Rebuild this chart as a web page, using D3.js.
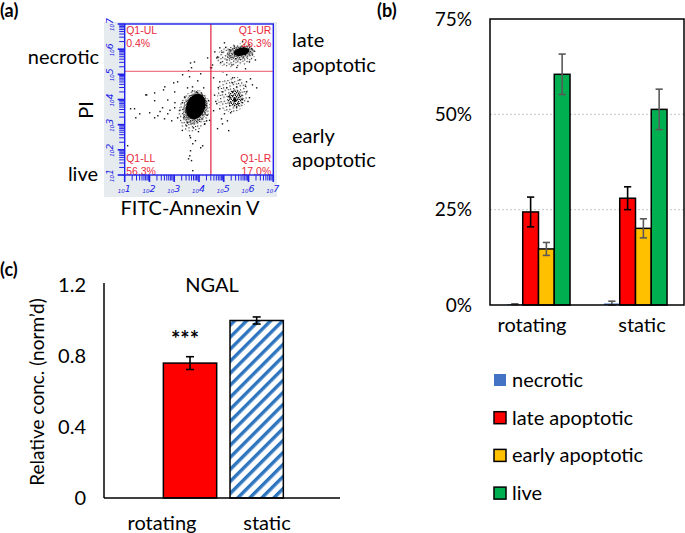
<!DOCTYPE html>
<html>
<head>
<meta charset="utf-8">
<script src="https://cdn.jsdelivr.net/npm/d3@7"></script>
<style>
  body { margin: 0; background: #fff; }
  svg { display: block; font-family: Lato, "Open Sans", sans-serif; }
</style>
</head>
<body>
<svg id="fig" width="685" height="533"></svg>
<script>
// ---------- (a) flow cytometry, values are log10 units ----------
const gateX = 4.48;
const gateY = 5.12;
const decades = [1, 2, 3, 4, 5, 6, 7];
const quadLabels = [
  { name: "Q1-UL", pct: "0.4%", q: "UL" },
  { name: "Q1-UR", pct: "26.3%", q: "UR" },
  { name: "Q1-LL", pct: "56.3%", q: "LL" },
  { name: "Q1-LR", pct: "17.0%", q: "LR" }
];
// dense populations (centre, spread in decades, tilt, texture)
const densePops = [
  { x: 3.8, y: 3.55, rx: 0.62, ry: 0.85, rot: 15, tex: "sparse" },
  { x: 3.85, y: 3.65, rx: 0.48, ry: 0.66, rot: 18, tex: "mid" },
  { x: 3.87, y: 3.72, rx: 0.38, ry: 0.52, rot: 20, tex: "solid" },
  { x: 5.5, y: 5.75, rx: 0.8, ry: 0.45, rot: -12, tex: "sparse" },
  { x: 5.65, y: 5.85, rx: 0.55, ry: 0.28, rot: -12, tex: "mid" },
  { x: 5.72, y: 5.9, rx: 0.32, ry: 0.16, rot: -12, tex: "solid" },
  { x: 5.35, y: 4.2, rx: 0.62, ry: 0.72, rot: 10, tex: "sparse" },
  { x: 5.45, y: 4.05, rx: 0.3, ry: 0.35, rot: 0, tex: "mid" },
  { x: 5.45, y: 3.98, rx: 0.07, ry: 0.08, rot: 0, tex: "solid" }
];
const dots = [
  [2.31,3.38],[2.18,3.30],[1.98,3.50],[2.71,3.46],[2.58,3.26],[1.58,3.46],[1.37,3.66],[2.99,3.70],
  [3.11,3.30],[2.87,3.18],[3.47,2.98],[3.60,2.59],[3.72,2.27],[3.60,1.79],[3.67,1.60],[3.72,1.20],
  [1.09,2.19],[1.82,4.21],[2.18,3.98],[1.42,3.30],[1.21,3.66],[2.54,4.41],[2.95,4.69],[3.51,4.49],
  [3.71,4.37],[3.92,4.77],[3.75,2.90],[3.63,2.51],[3.83,2.39],[4.04,2.11],[3.63,1.99],[3.55,1.67],
  [4.12,3.58],[4.36,3.98],[4.16,4.49],[3.30,3.90],[3.40,4.10],[3.20,3.60],[3.35,3.30],[3.50,3.10],
  [4.30,3.40],[4.25,3.80],[4.40,3.20],[3.90,4.30],[4.10,4.20],[3.00,3.90],[2.80,3.60],[3.45,3.55],
  [4.20,3.05],[3.95,2.75],[3.30,2.80],[2.50,3.70],[2.40,3.55],
  [2.59,4.53],[1.86,4.21],[2.18,4.29],[2.99,4.33],[3.11,4.73],[3.31,5.01],[3.67,5.29],[3.79,5.52],
  [3.59,4.93],[3.71,4.53],[3.87,4.33],[3.39,4.13],[2.71,4.01],[3.63,5.48],[3.55,5.17],[4.04,5.05],
  [4.32,5.68],[4.44,5.29],[4.56,4.89],[4.56,3.58],
  [4.52,5.40],[4.69,5.68],[4.61,5.92],[4.81,6.08],[4.94,5.13],[5.09,5.01],[5.33,4.89],[5.62,4.81],
  [5.89,4.73],[6.01,5.52],[6.13,5.80],[6.01,6.20],[5.73,6.32],[5.00,6.28],[4.72,5.72],[4.48,5.29],
  [4.90,5.90],[5.10,5.60],[5.20,6.00],[5.30,5.40],[5.50,5.30],[6.20,5.95],[6.25,5.60],[5.85,5.25],
  [4.85,5.50],[5.05,6.10],[5.40,6.15],[6.10,6.05],
  [4.69,3.86],[4.81,3.66],[5.00,3.46],[5.21,3.78],[5.49,3.70],[4.88,3.26],[5.12,3.18],[4.28,3.18],
  [4.20,3.06],[4.12,2.19],[4.72,2.87],[5.73,3.90],[4.81,4.73],[5.09,4.49],[5.33,4.33],[5.61,4.21],
  [5.89,4.33],[6.13,4.61],[6.30,4.49],[5.49,4.53],[5.21,4.13],[6.01,4.10],[5.73,4.02],[4.93,4.33],
  [5.33,4.69],[5.17,2.79],[4.92,3.06],[4.60,4.20],[4.75,4.50],[4.65,3.95],[5.85,4.55],[6.05,4.85],
  [5.95,3.95],[5.55,3.85],[5.25,3.50]
];

// ---------- (b) cell status ----------
const statusCats = ["rotating", "static"];
const statusSeries = ["necrotic", "late apoptotic", "early apoptotic", "live"];
const necroticPct = [0.2, 0.4];
const lateApoPct = [24.4, 28.0];
const earlyApoPct = [14.7, 20.1];
const livePct = [60.5, 51.3];
const necroticErr = [0.1, 0.6];
const lateApoErr = [3.9, 3.0];
const earlyApoErr = [1.7, 2.5];
const liveErr = [5.3, 5.3];
const pctTicks = [0, 25, 50, 75];

// ---------- (c) NGAL ----------
const ngalCats = ["rotating", "static"];
const ngalVals = [0.76, 1.0];
const ngalErr = [0.036, 0.02];
const ngalTicks = [0, 0.4, 0.8, 1.2];

const colors = {
  "necrotic": "#4472c4",
  "late apoptotic": "#ff0000",
  "early apoptotic": "#ffc000",
  "live": "#00b050"
};
const errColors = {
  "necrotic": "#595959",
  "late apoptotic": "#000",
  "early apoptotic": "#595959",
  "live": "#595959"
};

const svg = d3.select("#fig");
const defs = svg.append("defs");
const blue = "#2020e8";
const qRed = "#e8283c";

// stipple textures for the dot clouds
defs.append("pattern").attr("id", "tex-sparse").attr("patternUnits", "userSpaceOnUse")
  .attr("width", 7).attr("height", 7)
  .call(p => {
    [[0, 0], [4, 2], [1, 4], [5, 5], [3, 6]].forEach(([x, y]) => {
      p.append("rect").attr("x", x).attr("y", y).attr("width", 1.2).attr("height", 1.2).attr("fill", "#222");
    });
  });
defs.append("pattern").attr("id", "tex-mid").attr("patternUnits", "userSpaceOnUse")
  .attr("width", 4).attr("height", 4)
  .call(p => {
    [[0, 0], [2, 1], [1, 2.5], [3, 3]].forEach(([x, y]) => {
      p.append("rect").attr("x", x).attr("y", y).attr("width", 1.3).attr("height", 1.3).attr("fill", "#111");
    });
  });
const texFill = { sparse: "url(#tex-sparse)", mid: "url(#tex-mid)", solid: "#000" };

// ================= panel (a) =================
const xA = d3.scaleLinear().domain([1, 7]).range([124.7, 273.3]);
const yA = d3.scaleLinear().domain([1, 7]).range([175, 24]);

svg.append("rect").attr("x", 104).attr("y", 22).attr("width", 173).attr("height", 175)
  .attr("fill", "#e5ebef");
svg.append("rect").attr("x", xA(1)).attr("y", yA(7))
  .attr("width", xA(7) - xA(1)).attr("height", yA(1) - yA(7)).attr("fill", "#fff");

const dotG = svg.append("g");
densePops.forEach(p => {
  dotG.append("ellipse")
    .attr("cx", xA(p.x)).attr("cy", yA(p.y))
    .attr("rx", xA(p.x + p.rx) - xA(p.x))
    .attr("ry", yA(p.y) - yA(p.y + p.ry))
    .attr("transform", `rotate(${p.rot},${xA(p.x)},${yA(p.y)})`)
    .attr("fill", texFill[p.tex]);
});
dotG.selectAll("rect.dot")
  .data(dots)
  .enter()
  .append("rect")
  .attr("class", "dot")
  .attr("x", d => xA(d[0]))
  .attr("y", d => yA(d[1]))
  .attr("width", 1.4)
  .attr("height", 1.4)
  .attr("fill", "#111");

// gates
svg.append("line")
  .attr("x1", xA(1)).attr("x2", xA(7)).attr("y1", yA(gateY)).attr("y2", yA(gateY))
  .attr("stroke", "#f07888").attr("stroke-width", 1.2);
svg.append("line")
  .attr("x1", xA(gateX)).attr("x2", xA(gateX)).attr("y1", yA(7)).attr("y2", yA(1))
  .attr("stroke", "#e0203c").attr("stroke-width", 1.2);

// quadrant labels
quadLabels.forEach(q => {
  const right = q.q[1] === "R";
  const top = q.q[0] === "U";
  const tx = right ? xA(7) - 2 : xA(1) + 1.5;
  const ty = top ? yA(7) + 10 : yA(1) - 13;
  const t = svg.append("text")
    .attr("x", tx).attr("y", ty)
    .attr("text-anchor", right ? "end" : "start")
    .attr("fill", qRed)
    .style("font-family", "'Liberation Sans', Arial, sans-serif")
    .style("font-size", "10.5px");
  t.append("tspan").attr("x", tx).text(q.name);
  t.append("tspan").attr("x", tx).attr("dy", 12.5).text(q.pct);
});

// log ticks
const tickVals = [];
decades.slice(0, -1).forEach(d => {
  d3.range(1, 10).forEach(k => tickVals.push({ v: d + Math.log10(k), major: k === 1 }));
});
tickVals.push({ v: 7, major: true });

svg.append("g").selectAll("line")
  .data(tickVals).enter().append("line")
  .attr("x1", d => xA(d.v)).attr("x2", d => xA(d.v))
  .attr("y1", yA(1)).attr("y2", d => yA(1) + (d.major ? 7 : 5.5))
  .attr("stroke", blue).attr("stroke-width", d => d.major ? 1.6 : 1);
svg.append("g").selectAll("line")
  .data(tickVals).enter().append("line")
  .attr("y1", d => yA(d.v)).attr("y2", d => yA(d.v))
  .attr("x1", xA(1)).attr("x2", d => xA(1) - (d.major ? 7 : 5.5))
  .attr("stroke", blue).attr("stroke-width", d => d.major ? 1.6 : 1);

// frame
svg.append("rect").attr("x", xA(1)).attr("y", yA(7))
  .attr("width", xA(7) - xA(1)).attr("height", yA(1) - yA(7))
  .attr("fill", "none").attr("stroke", blue).attr("stroke-width", 1.4);

// decade labels
const labStyle = sel => sel.attr("fill", blue).style("font-family", "'DejaVu Sans', sans-serif")
  .style("font-style", "italic");
decades.forEach(d => {
  const t = svg.append("text").attr("x", xA(d) - 7).attr("y", 193).call(labStyle);
  t.append("tspan").style("font-size", "5.5px").text("10");
  t.append("tspan").style("font-size", "9.5px").attr("dy", -1).text(d);
  const ty = svg.append("text")
    .attr("transform", `translate(114,${yA(d) + 7}) rotate(-90)`).call(labStyle);
  ty.append("tspan").style("font-size", "5.5px").text("10");
  ty.append("tspan").style("font-size", "9.5px").attr("dy", -1).text(d);
});

// panel (a) text
const big = "20px";
svg.append("text").attr("x", 0).attr("y", 17).style("font-weight", "bold")
  .style("font-size", "18px").text("(a)");
svg.append("text").attr("x", 99).attr("y", 57).attr("dy", "0.35em")
  .attr("text-anchor", "end").style("font-size", big).text("necrotic");
svg.append("text").attr("x", 98).attr("y", 174).attr("dy", "0.35em")
  .attr("text-anchor", "end").style("font-size", big).text("live");
svg.append("text").attr("transform", "translate(86,110) rotate(-90)").attr("dy", "0.35em")
  .attr("text-anchor", "middle").style("font-size", big).text("PI");
svg.append("text").attr("x", 190).attr("y", 208).attr("dy", "0.35em")
  .attr("text-anchor", "middle").style("font-size", big).text("FITC-Annexin V");
[["late", 40], ["apoptotic", 65], ["early", 136], ["apoptotic", 160]].forEach(([s, y]) => {
  svg.append("text").attr("x", 292).attr("y", y).attr("dy", "0.35em")
    .style("font-size", big).text(s);
});

// ================= panel (b) =================
const xB = d3.scaleBand().domain(statusCats).range([490, 684])
  .paddingInner(0.35).paddingOuter(0.175);
const xBs = d3.scaleBand().domain(statusSeries).range([0, xB.bandwidth()]);
const yB = d3.scaleLinear().domain([0, 75]).range([305, 19]);
const xBlab = d3.scalePoint().domain(statusCats).range([532, 642]);

const seriesVals = [necroticPct, lateApoPct, earlyApoPct, livePct];
const seriesErrs = [necroticErr, lateApoErr, earlyApoErr, liveErr];
const statusData = [];
statusCats.forEach((c, i) => {
  statusSeries.forEach((s, j) => {
    statusData.push({ cat: c, series: s, v: seriesVals[j][i], e: seriesErrs[j][i] });
  });
});

svg.append("text").attr("x", 377).attr("y", 17).style("font-weight", "bold")
  .style("font-size", "18px").text("(b)");

svg.append("g").selectAll("line")
  .data([25, 50]).enter().append("line")
  .attr("x1", 490).attr("x2", 684)
  .attr("y1", d => yB(d)).attr("y2", d => yB(d))
  .attr("stroke", "#d0d0d0").attr("stroke-width", 1.2).attr("stroke-dasharray", "2,2");

svg.append("g").selectAll("rect")
  .data(statusData).enter().append("rect")
  .attr("x", d => xB(d.cat) + xBs(d.series))
  .attr("y", d => yB(d.v))
  .attr("width", xBs.bandwidth())
  .attr("height", d => yB(0) - yB(d.v))
  .attr("fill", d => colors[d.series])
  .attr("stroke", d => d.series === "necrotic" ? "none" : "#000")
  .attr("stroke-width", 1.5);

const errB = svg.append("g").selectAll("g")
  .data(statusData).enter().append("g")
  .attr("stroke", d => errColors[d.series]).attr("stroke-width", 1.6);
errB.append("line")
  .attr("x1", d => xB(d.cat) + xBs(d.series) + xBs.bandwidth() / 2)
  .attr("x2", d => xB(d.cat) + xBs(d.series) + xBs.bandwidth() / 2)
  .attr("y1", d => yB(d.v + d.e)).attr("y2", d => yB(Math.max(0, d.v - d.e)));
[1, -1].forEach(sgn => {
  errB.append("line")
    .attr("x1", d => xB(d.cat) + xBs(d.series) + xBs.bandwidth() / 2 - 3.6)
    .attr("x2", d => xB(d.cat) + xBs(d.series) + xBs.bandwidth() / 2 + 3.6)
    .attr("y1", d => yB(Math.max(0, d.v + sgn * d.e)))
    .attr("y2", d => yB(Math.max(0, d.v + sgn * d.e)));
});

svg.append("rect").attr("x", 490).attr("y", yB(75)).attr("width", 194)
  .attr("height", yB(0) - yB(75)).attr("fill", "none").attr("stroke", "#000")
  .attr("stroke-width", 1.5);

svg.append("g").selectAll("text")
  .data(pctTicks).enter().append("text")
  .attr("x", 472).attr("y", d => yB(d)).attr("dy", "0.35em")
  .attr("text-anchor", "end").style("font-size", "19px")
  .text(d => d + "%");

svg.append("g").selectAll("text")
  .data(statusCats).enter().append("text")
  .attr("x", d => xBlab(d)).attr("y", 325).attr("dy", "0.35em")
  .attr("text-anchor", "middle").style("font-size", big)
  .text(d => d);

// legend
const leg = svg.append("g").selectAll("g")
  .data(statusSeries).enter().append("g")
  .attr("transform", (d, i) => `translate(494,${380 + i * 37.7})`);
leg.append("rect").attr("x", 0).attr("y", -6).attr("width", 12).attr("height", 12)
  .attr("fill", d => colors[d])
  .attr("stroke", d => d === "necrotic" ? "none" : "#000").attr("stroke-width", 1.5);
leg.append("text").attr("x", 18).attr("dy", "0.35em").style("font-size", big).text(d => d);

// ================= panel (c) =================
const xC = d3.scaleBand().domain(ngalCats).range([156.7, 290]).paddingInner(0.2).paddingOuter(0.1);
const yC = d3.scaleLinear().domain([0, 1.2]).range([498, 285]);
const xClab = d3.scalePoint().domain(ngalCats).range([162, 267]);
const ngalData = ngalCats.map((c, i) => ({ cat: c, v: ngalVals[i], e: ngalErr[i] }));

defs.append("pattern").attr("id", "hatch").attr("patternUnits", "userSpaceOnUse")
  .attr("width", 8.5).attr("height", 8.5).attr("patternTransform", "rotate(45)")
  .call(p => {
    p.append("rect").attr("width", 8.5).attr("height", 8.5).attr("fill", "#fff");
    p.append("rect").attr("width", 3.4).attr("height", 8.5).attr("fill", "#2e75c0");
  });

svg.append("text").attr("x", 0).attr("y", 276).style("font-weight", "bold")
  .style("font-size", "18px").text("(c)");

svg.append("g").selectAll("rect")
  .data(ngalData).enter().append("rect")
  .attr("x", d => xC(d.cat)).attr("y", d => yC(d.v))
  .attr("width", xC.bandwidth()).attr("height", d => yC(0) - yC(d.v))
  .attr("fill", (d, i) => i === 0 ? "#ff0000" : "url(#hatch)")
  .attr("stroke", "#000").attr("stroke-width", 1.5);

const errC = svg.append("g").selectAll("g")
  .data(ngalData).enter().append("g").attr("stroke", "#000").attr("stroke-width", 1.6);
errC.append("line")
  .attr("x1", d => xC(d.cat) + xC.bandwidth() / 2).attr("x2", d => xC(d.cat) + xC.bandwidth() / 2)
  .attr("y1", d => yC(d.v + d.e)).attr("y2", d => yC(d.v - d.e));
[1, -1].forEach(sgn => {
  errC.append("line")
    .attr("x1", d => xC(d.cat) + xC.bandwidth() / 2 - 4)
    .attr("x2", d => xC(d.cat) + xC.bandwidth() / 2 + 4)
    .attr("y1", d => yC(d.v + sgn * d.e)).attr("y2", d => yC(d.v + sgn * d.e));
});

svg.append("text").attr("x", xC("rotating") + xC.bandwidth() / 2 - 5).attr("y", 347)
  .attr("text-anchor", "middle").style("font-size", "22px").style("font-weight", "bold")
  .text("***");

svg.append("line").attr("x1", 104).attr("x2", 104).attr("y1", 283).attr("y2", yC(0))
  .attr("stroke", "#000").attr("stroke-width", 1.5);
svg.append("line").attr("x1", 104).attr("x2", 340).attr("y1", yC(0)).attr("y2", yC(0))
  .attr("stroke", "#000").attr("stroke-width", 1.5);

svg.append("g").selectAll("text")
  .data(ngalTicks).enter().append("text")
  .attr("x", 86).attr("y", d => yC(d)).attr("dy", "0.35em")
  .attr("text-anchor", "end").style("font-size", big)
  .text(d => d === 0 ? "0" : d.toFixed(1));

svg.append("g").selectAll("text")
  .data(ngalCats).enter().append("text")
  .attr("x", d => xClab(d)).attr("y", 523).attr("dy", "0.35em")
  .attr("text-anchor", "middle").style("font-size", big).text(d => d);

svg.append("text").attr("x", 212).attr("y", 285).attr("dy", "0.35em")
  .attr("text-anchor", "middle").style("font-size", big).text("NGAL");

svg.append("text").attr("transform", "translate(37,392) rotate(-90)").attr("dy", "0.35em")
  .attr("text-anchor", "middle").style("font-size", "19px").text("Relative conc. (norm\u2019d)");
</script>
</body>
</html>
